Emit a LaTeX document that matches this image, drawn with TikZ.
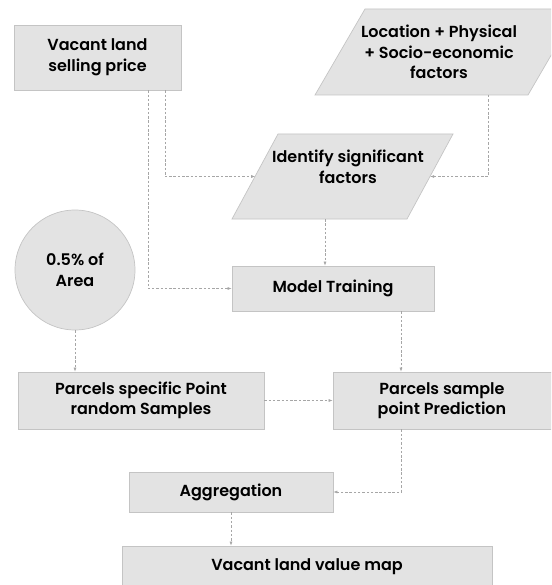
\documentclass[tikz,border=0pt]{standalone}
\usepackage{fontspec}
\setmainfont{Poppins SemiBold}
\usetikzlibrary{arrows.meta,calc}
\definecolor{boxfill}{HTML}{E3E3E3}
\definecolor{boxline}{HTML}{C4C4C4}
\definecolor{conncol}{HTML}{A6A6A6}
\begin{document}
\begin{tikzpicture}[x=1pt,y=-1pt,
  every node/.style={font=\fontsize{16}{20.5}\selectfont, align=center, text=black},
  box/.style={draw=boxline, fill=boxfill, line width=0.7pt, rectangle, inner sep=0pt},
  parashape/.style={draw=boxline, fill=boxfill, line width=0.7pt},
  roundbox/.style={draw=boxline, fill=boxfill, line width=0.7pt, circle, inner sep=0pt},
  conn/.style={draw=conncol, line width=0.6pt, dash pattern=on 2.5pt off 1.8pt, -{Latex[length=4pt,width=3pt]}}]
\useasboundingbox (0,0) rectangle (551,585);
\clip (0,0) rectangle (551,585);
% parallelograms
\draw[parashape] (315,95) -- (528,95) -- (578,9) -- (365,9) -- cycle;
\draw[parashape] (232,219) -- (407,219) -- (453,134) -- (278,134) -- cycle;
\coordinate (locS) at (488,95);
\coordinate (identW) at (255.2,176.5);
\coordinate (identE) at (430.2,176.5);
\coordinate (identS) at (325,219);
% nodes
\node[box, minimum width=167pt, minimum height=65pt] (vsp) at (97.5,57.5) {Vacant land\\selling price};
\node at (439,52) (loctext) {Location + Physical\\+ Socio-economic\\factors};
\node at (348,167) (identtext) {Identify significant\\factors};
\node[box, minimum width=202pt, minimum height=45pt] (model) at (333,288.5) {Model Training};
\node[roundbox, minimum size=120pt] (area) at (75,270) {0.5\% of\\Area};
\node[box, minimum width=246pt, minimum height=57pt] (psp) at (141,400.5) {Parcels specific Point\\random Samples};
\node[box, minimum width=220pt, minimum height=57pt] (pred) at (443,400.5) {};
\node at (442,400.5) (predtext) {Parcels sample\\point Prediction};
\node[box, minimum width=204pt, minimum height=40pt] (agg) at (231,492) {Aggregation};
\node[box, minimum width=370pt, minimum height=46pt] (map) at (307,569) {};
\node at (307,567) (maptext) {Vacant land value map};
% connectors
\draw[conn] ($(vsp.south)+(67.5,0)$) |- (identW);
\draw[conn] ($(vsp.south)+(50.5,0)$) |- (model.west);
\draw[conn] (locS) |- (identE);
\draw[conn] (identS) -- (identS |- model.north);
\draw[conn] ($(model.south)+(68,0)$) -- ($(pred.north)+(-42,0)$);
\draw[conn] (area.south) -- (area.south |- psp.north);
\draw[conn] (psp.east) -- (pred.west);
\draw[conn] ($(pred.south)+(-42,0)$) |- (agg.east);
\draw[conn] (agg.south) -- (agg.south |- map.north);
\end{tikzpicture}
\end{document}
